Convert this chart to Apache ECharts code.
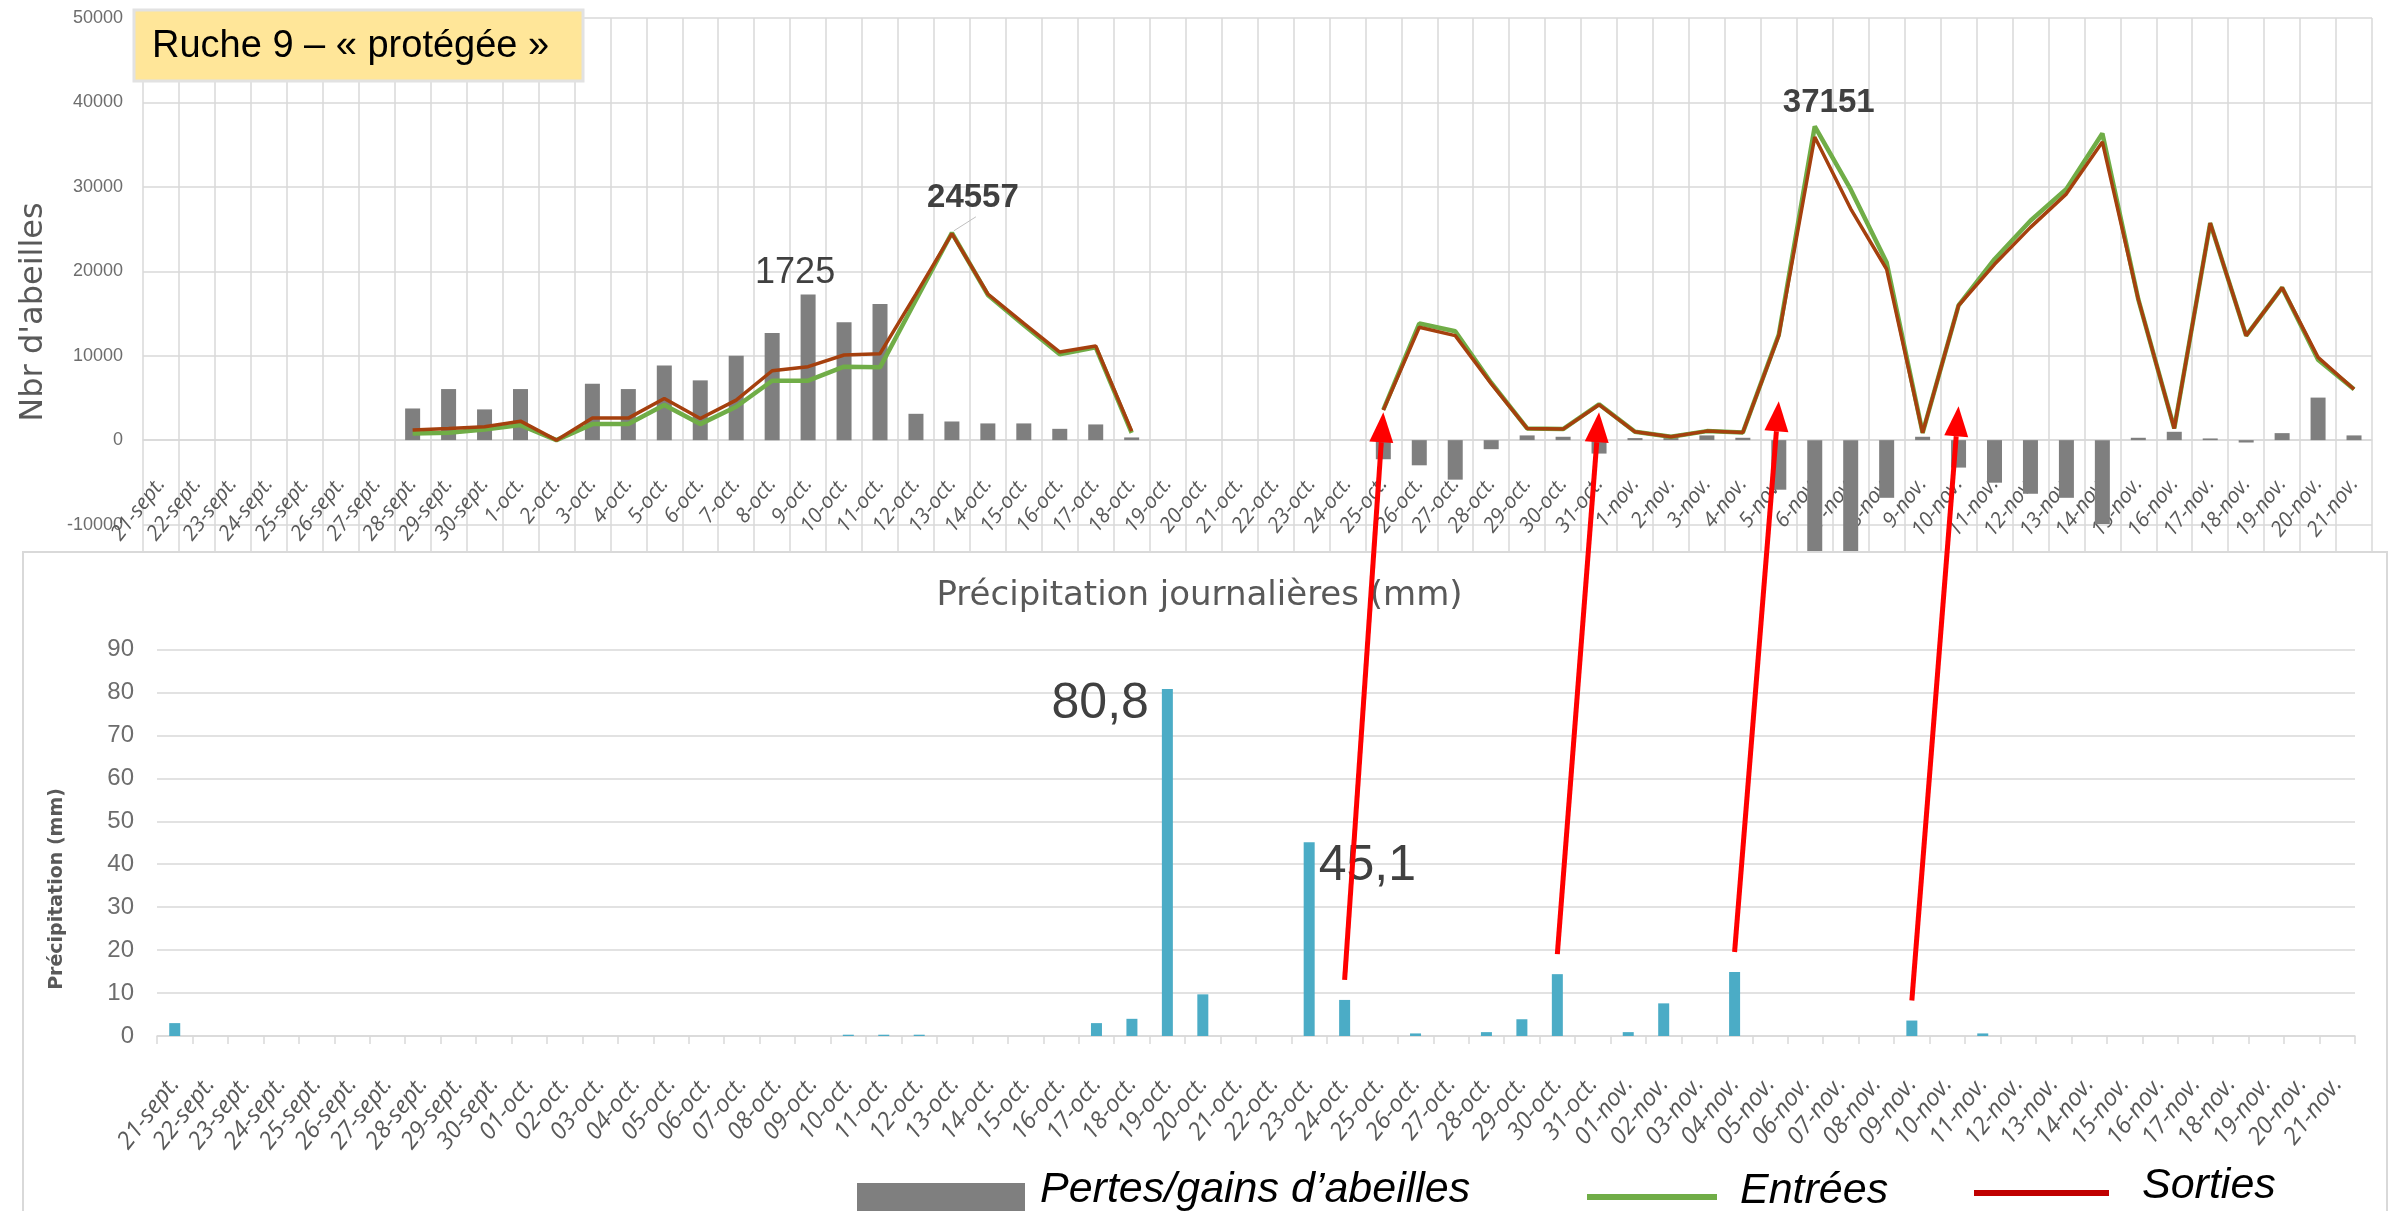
<!DOCTYPE html>
<html>
<head>
<meta charset="utf-8">
<title>Ruche 9 – protégée</title>
<script src="https://cdn.jsdelivr.net/npm/echarts@6/dist/echarts.min.js"></script>
<style>
  html, body { margin: 0; padding: 0; background: #fff; }
  #chart { width: 2399px; height: 1211px; }
</style>
</head>
<body>
<div id="chart"></div>
<script>
// axe du compteur d'abeilles (graphique du haut)
const joursAbeilles = [
  '21-sept.', '22-sept.', '23-sept.', '24-sept.', '25-sept.', '26-sept.', '27-sept.', '28-sept.', '29-sept.', '30-sept.',
  '1-oct.', '2-oct.', '3-oct.', '4-oct.', '5-oct.', '6-oct.', '7-oct.', '8-oct.', '9-oct.', '10-oct.',
  '11-oct.', '12-oct.', '13-oct.', '14-oct.', '15-oct.', '16-oct.', '17-oct.', '18-oct.', '19-oct.', '20-oct.',
  '21-oct.', '22-oct.', '23-oct.', '24-oct.', '25-oct.', '26-oct.', '27-oct.', '28-oct.', '29-oct.', '30-oct.', '31-oct.',
  '1-nov.', '2-nov.', '3-nov.', '4-nov.', '5-nov.', '6-nov.', '7-nov.', '8-nov.', '9-nov.', '10-nov.',
  '11-nov.', '12-nov.', '13-nov.', '14-nov.', '15-nov.', '16-nov.', '17-nov.', '18-nov.', '19-nov.', '20-nov.', '21-nov.'
];
// axe de la pluviométrie (graphique du bas)
const joursPluie = [
  '21-sept.', '22-sept.', '23-sept.', '24-sept.', '25-sept.', '26-sept.', '27-sept.', '28-sept.', '29-sept.', '30-sept.',
  '01-oct.', '02-oct.', '03-oct.', '04-oct.', '05-oct.', '06-oct.', '07-oct.', '08-oct.', '09-oct.', '10-oct.',
  '11-oct.', '12-oct.', '13-oct.', '14-oct.', '15-oct.', '16-oct.', '17-oct.', '18-oct.', '19-oct.', '20-oct.',
  '21-oct.', '22-oct.', '23-oct.', '24-oct.', '25-oct.', '26-oct.', '27-oct.', '28-oct.', '29-oct.', '30-oct.', '31-oct.',
  '01-nov.', '02-nov.', '03-nov.', '04-nov.', '05-nov.', '06-nov.', '07-nov.', '08-nov.', '09-nov.', '10-nov.',
  '11-nov.', '12-nov.', '13-nov.', '14-nov.', '15-nov.', '16-nov.', '17-nov.', '18-nov.', '19-nov.', '20-nov.', '21-nov.'
];

// pertes / gains d'abeilles (barres grises)
const pertesGains = [
  null, null, null, null, null, null, null, 3750, 6050, 3640,
  6050, null, 6680, 6050, 8850, 7080, 10000, 12690, 17250, 13950,
  16130, 3120, 2210, 1980, 1980, 1340, 1860, 320, null, null,
  null, null, null, null, -2260, -2980, -4680, -1070, 560, 400, -1590,
  240, 240, 560, 280, -5870, -14000, -14000, -6830, 400, -3250,
  -5040, -6350, -6830, -9920, 280, 990, 200, -280, 830, 5040, 560
];
const entrees = [
  null, null, null, null, null, null, null, 790, 870, 1260,
  1780, 0, 1900, 1900, 4150, 1900, 3950, 7040, 7040, 8700,
  8620, 16600, 24557, 17200, 13640, 10160, 10990, 870, null, null,
  null, null, null, null, 3600, 13810, 12900, 6800, 1390, 1310, 4250,
  990, 400, 1070, 910, 12500, 37151, 29700, 21030, 870, 15950,
  21430, 25990, 29760, 36310, 16670, 1390, 25710, 12380, 18060, 9520, 6030
];
const sorties = [
  null, null, null, null, null, null, null, 1190, 1380, 1580,
  2250, 0, 2610, 2610, 4940, 2570, 4740, 8220, 8700, 10080,
  10240, 17300, 24450, 17310, 13830, 10430, 11150, 1070, null, null,
  null, null, null, null, 3550, 13370, 12380, 6700, 1390, 1310, 4200,
  990, 400, 1070, 910, 12380, 35910, 27400, 20240, 870, 15950,
  20830, 25200, 29170, 35320, 16670, 1390, 25710, 12380, 18060, 9800, 6030
];
// précipitation journalière en mm
const precipitation = [
  3.0, 0, 0, 0, 0, 0, 0, 0, 0, 0,
  0, 0, 0, 0, 0, 0, 0, 0, 0, 0.3,
  0.3, 0.3, 0, 0, 0, 0, 3.0, 4.0, 80.8, 9.7,
  0, 0, 45.1, 8.4, 0, 0.6, 0, 0.9, 3.9, 14.4, 0,
  0.9, 7.6, 0, 14.9, 0, 0, 0, 0, 3.6, 0,
  0.6, 0, 0, 0, 0, 0, 0, 0, 0, 0, 0
];

// flèches rouges : [jour de pluie, jour du compteur, hauteur visée]
const fleches = [[33, 34, 3300], [39, 40, 3300], [44, 45, 4600], [49, 50, 4000]];

const gris = '#595959';
const grille = '#d9d9d9';
const police = '"Liberation Sans", Arial, sans-serif';

// échelle du haut : -20000 .. 50000, l'axe des dates est posé sur le zéro
const minHaut = -20000, maxHaut = 50000, hautGrille = 591;
const decalageZero = hautGrille * (0 - minHaut) / (maxHaut - minHaut);

const myChart = echarts.init(document.getElementById('chart'));

const etiquetteGras = {
  show: true, position: 'top', fontSize: 33, fontWeight: 'bold',
  color: '#404040', fontFamily: police
};

const elementsFixes = [
  // panneau blanc du graphique de pluie
  { type: 'rect', id: 'panneau', z: 10,
    shape: { x: 23, y: 552, width: 2364, height: 720 },
    style: { fill: '#fff', stroke: grille, lineWidth: 2 } },
  // cartouche du titre
  { type: 'rect', id: 'cartouche', z: 30,
    shape: { x: 134, y: 10, width: 449, height: 71 },
    style: { fill: '#ffe699', stroke: '#e2e2e2', lineWidth: 3 } },
  { type: 'text', id: 'titre', z: 31, x: 152, y: 47,
    style: { text: 'Ruche 9 – « protégée »', font: '38px ' + police, fill: '#000', verticalAlign: 'middle' } },
  // titres des axes
  { type: 'text', id: 'nbr', z: 5, x: 34, y: 312, rotation: Math.PI / 2,
    style: { text: "Nbr d'abeilles", font: '32px "DejaVu Sans", sans-serif', fill: gris, align: 'center', verticalAlign: 'middle' } },
  { type: 'text', id: 'precip', z: 12, x: 57, y: 889, rotation: Math.PI / 2,
    style: { text: 'Précipitation (mm)', font: 'bold 19px "DejaVu Sans", sans-serif', fill: gris, align: 'center', verticalAlign: 'middle' } },
  // légende
  { type: 'rect', id: 'legGris', z: 30, shape: { x: 857, y: 1183, width: 168, height: 40 }, style: { fill: '#7f7f7f' } },
  { type: 'text', id: 'legGrisTxt', z: 30, x: 1040, y: 1190,
    style: { text: 'Pertes/gains d’abeilles', font: 'italic 43px ' + police, fill: '#000', verticalAlign: 'middle' } },
  { type: 'line', id: 'legVert', z: 30, shape: { x1: 1587, y1: 1197, x2: 1717, y2: 1197 }, style: { stroke: '#70ad47', lineWidth: 6 } },
  { type: 'text', id: 'legVertTxt', z: 30, x: 1740, y: 1191,
    style: { text: 'Entrées', font: 'italic 43px ' + police, fill: '#000', verticalAlign: 'middle' } },
  { type: 'line', id: 'legRouge', z: 30, shape: { x1: 1974, y1: 1193, x2: 2109, y2: 1193 }, style: { stroke: '#c00000', lineWidth: 6 } },
  { type: 'text', id: 'legRougeTxt', z: 30, x: 2142, y: 1186,
    style: { text: 'Sorties', font: 'italic 43px ' + police, fill: '#000', verticalAlign: 'middle' } }
];

const option = {
  animation: false,
  title: {
    text: 'Précipitation journalières (mm)',
    left: 'center', top: 574, z: 12,
    textStyle: { fontSize: 34, fontWeight: 'normal', color: gris, fontFamily: '"DejaVu Sans", sans-serif' }
  },
  grid: [
    { left: 143, right: 27, top: 18, height: hautGrille },
    { left: 157, right: 44, top: 649.5, height: 386.5 }
  ],
  xAxis: [
    {
      type: 'category', gridIndex: 0, data: joursAbeilles, position: 'bottom', offset: -decalageZero,
      axisLine: { onZero: false, lineStyle: { color: grille, width: 1.5 } },
      axisTick: { show: false },
      axisLabel: { interval: 0, rotate: 52, margin: 40, fontSize: 21, fontStyle: 'italic', color: gris, fontFamily: '"Open Sans", sans-serif' },
      splitLine: { show: true, interval: 0, lineStyle: { color: grille, width: 1.5 } }
    },
    {
      type: 'category', gridIndex: 1, data: joursPluie, z: 11,
      axisLine: { lineStyle: { color: grille, width: 1.5 } },
      axisTick: { show: true, length: 8, interval: 0, lineStyle: { color: grille, width: 1.5 } },
      axisLabel: { interval: 0, rotate: 52, margin: 44, fontSize: 24, fontStyle: 'italic', color: gris, fontFamily: '"Open Sans", sans-serif' },
      splitLine: { show: false }
    }
  ],
  yAxis: [
    {
      type: 'value', gridIndex: 0, min: minHaut, max: maxHaut, interval: 10000,
      axisLine: { show: false }, axisTick: { show: false },
      axisLabel: { margin: 20, fontSize: 18, color: '#6d6d6d', fontFamily: police, formatter: v => String(v) },
      splitLine: { lineStyle: { color: grille, width: 1.5 } }
    },
    {
      type: 'value', gridIndex: 1, min: 0, max: 90, interval: 10, z: 11,
      axisLine: { show: false }, axisTick: { show: false },
      axisLabel: { margin: 23, fontSize: 24, color: '#6d6d6d', fontFamily: police },
      splitLine: { lineStyle: { color: grille, width: 1.5 } }
    }
  ],
  series: [
    {
      name: 'Pertes/gains d’abeilles', type: 'bar', xAxisIndex: 0, yAxisIndex: 0,
      barWidth: 15, itemStyle: { color: '#7f7f7f' },
      data: pertesGains.map((v, i) => i === 18
        ? { value: v, label: { show: true, position: 'top', formatter: '1725', offset: [-13, 2], fontSize: 36, color: '#404040', fontFamily: police } }
        : v)
    },
    {
      name: 'Entrées', type: 'line', xAxisIndex: 0, yAxisIndex: 0,
      symbol: 'circle', symbolSize: 0.1, showSymbol: true, showAllSymbol: true,
      lineStyle: { color: '#70ad47', width: 4.5 }, itemStyle: { color: '#70ad47' },
      data: entrees.map((v, i) => {
        if (i === 22) return { value: v, label: Object.assign({}, etiquetteGras, { offset: [21, -13] }) };
        if (i === 46) return { value: v, label: Object.assign({}, etiquetteGras, { offset: [14, -2] }) };
        return v;
      })
    },
    {
      name: 'Sorties', type: 'line', xAxisIndex: 0, yAxisIndex: 0,
      symbol: 'none', lineStyle: { color: '#a5400e', width: 3.5 }, itemStyle: { color: '#a5400e' },
      data: sorties
    },
    {
      name: 'Précipitation', type: 'bar', xAxisIndex: 1, yAxisIndex: 1, z: 12,
      barWidth: 11, itemStyle: { color: '#4bacc6' },
      data: precipitation.map((v, i) => {
        if (i === 28) return { value: v, label: { show: true, position: [-13, 15], align: 'right', verticalAlign: 'middle', formatter: '80,8', fontSize: 50, color: '#404040', fontFamily: police } };
        if (i === 32) return { value: v, label: { show: true, position: [15, 24], align: 'left', verticalAlign: 'middle', formatter: '45,1', fontSize: 50, color: '#404040', fontFamily: police } };
        return v;
      })
    }
  ],
  graphic: { elements: elementsFixes }
};

myChart.setOption(option);

// flèches et trait de rappel calculés depuis les axes
const extras = [];
fleches.forEach(([iPluie, iAbeille, cible], k) => {
  const bas = myChart.convertToPixel({ gridIndex: 1 }, [iPluie, precipitation[iPluie]]);
  const haut = myChart.convertToPixel({ gridIndex: 0 }, [iAbeille, cible]);
  const x1 = bas[0], y1 = bas[1] - 20, x2 = haut[0], y2 = haut[1];
  const dx = x2 - x1, dy = y2 - y1, L = Math.sqrt(dx * dx + dy * dy);
  const ux = dx / L, uy = dy / L, head = 30, half = 12;
  const bx = x2 - ux * head, by = y2 - uy * head;
  extras.push({ type: 'line', id: 'fl' + k, z: 40,
    shape: { x1: x1, y1: y1, x2: bx, y2: by },
    style: { stroke: '#ff0000', lineWidth: 5 } });
  extras.push({ type: 'polygon', id: 'tete' + k, z: 40,
    shape: { points: [[x2, y2], [bx - uy * half, by + ux * half], [bx + uy * half, by - ux * half]] },
    style: { fill: '#ff0000' } });
});
const pic = myChart.convertToPixel({ gridIndex: 0 }, [22, entrees[22]]);
extras.push({ type: 'line', id: 'rappel', z: 5,
  shape: { x1: pic[0] + 2, y1: pic[1] - 2, x2: pic[0] + 24, y2: pic[1] - 16 },
  style: { stroke: '#bfbfbf', lineWidth: 1 } });

myChart.setOption({ graphic: { elements: elementsFixes.concat(extras) } });
</script>
</body>
</html>
